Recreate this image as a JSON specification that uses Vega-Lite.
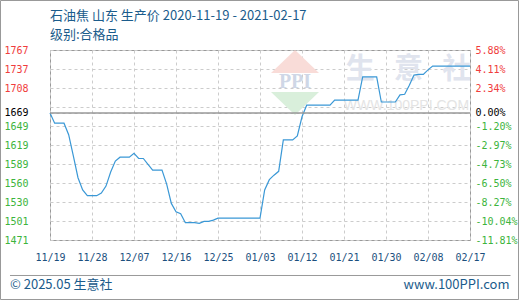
{
  "$schema": "https://vega.github.io/schema/vega-lite/v6.json",
  "width": 420,
  "height": 190,
  "autosize": {"type": "none"},
  "padding": {"left": 50, "top": 50, "right": 50, "bottom": 60},
  "background": "white",
  "title": {
    "text": "石油焦 山东 生产价 2020-11-19 - 2021-02-17",
    "subtitle": "级别:合格品",
    "anchor": "start",
    "frame": "group",
    "font": "Noto Sans CJK SC",
    "fontSize": 13,
    "fontWeight": "normal",
    "color": "#1b5c8c",
    "subtitleFont": "Noto Sans CJK SC",
    "subtitleFontSize": 13,
    "subtitleColor": "#1b5c8c",
    "subtitlePadding": 6,
    "offset": -42
  },
  "config": {
    "view": {"stroke": "#999999", "strokeWidth": 1},
    "axis": {
      "labelFont": "DejaVu Sans Mono",
      "labelFontSize": 10,
      "ticks": false,
      "tickSize": 0,
      "domain": false,
      "gridColor": "#cccccc",
      "gridDash": [3, 3],
      "title": null
    }
  },
  "resolve": {"scale": {"y": "independent"}},
  "layer": [
    {
      "data": {"values": [{}]},
      "mark": {"type": "point", "shape": "M-1,0.48L0,-0.48L1,0.48Z", "filled": true, "size": 2304, "color": "#f9dcd8", "opacity": 1},
      "encoding": {
        "x": {"datum": {"year": 2021, "month": 1, "date": 10, "hours": 12, "utc": true}, "type": "temporal", "scale": {"type": "utc", "domain": [1605744000000, 1613520000000], "nice": false}},
        "y": {"datum": 1749.1, "type": "quantitative", "scale": {"domain": [1471, 1767], "nice": false, "zero": false}, "axis": null}
      }
    },
    {
      "data": {"values": [{}]},
      "mark": {"type": "point", "shape": "M-1,-0.48L1,-0.48L0,0.48Z", "filled": true, "size": 2304, "color": "#d9efdb", "opacity": 1},
      "encoding": {
        "x": {"datum": {"year": 2021, "month": 1, "date": 10, "hours": 12, "utc": true}, "type": "temporal", "scale": {"type": "utc", "domain": [1605744000000, 1613520000000], "nice": false}},
        "y": {"datum": 1683.7, "type": "quantitative", "scale": {"domain": [1471, 1767], "nice": false, "zero": false}, "axis": null}
      }
    },
    {
      "data": {"values": [{}]},
      "mark": {"type": "text", "text": "PPI", "align": "center", "baseline": "middle", "font": "Liberation Serif", "fontWeight": "bold", "fontSize": 20, "color": "#cfd7e6"},
      "encoding": {
        "x": {"datum": {"year": 2021, "month": 1, "date": 10, "hours": 12, "utc": true}, "type": "temporal", "scale": {"type": "utc", "domain": [1605744000000, 1613520000000], "nice": false}},
        "y": {"datum": 1716.4, "type": "quantitative", "scale": {"domain": [1471, 1767], "nice": false, "zero": false}, "axis": null}
      }
    },
    {
      "data": {"values": [{}]},
      "mark": {"type": "text", "text": "生\u2002\u2006意\u2002\u2006社", "align": "center", "baseline": "middle", "font": "Noto Sans CJK SC", "fontWeight": "bold", "fontSize": 29, "color": "#e0e4ee"},
      "encoding": {
        "x": {"datum": {"year": 2021, "month": 2, "date": 3, "hours": 19, "minutes": 40, "utc": true}, "type": "temporal", "scale": {"type": "utc", "domain": [1605744000000, 1613520000000], "nice": false}},
        "y": {"datum": 1735.8, "type": "quantitative", "scale": {"domain": [1471, 1767], "nice": false, "zero": false}, "axis": null}
      }
    },
    {
      "data": {"values": [{}]},
      "mark": {"type": "text", "text": "WWW.100PPI.COM", "align": "center", "baseline": "middle", "font": "Liberation Sans", "fontSize": 14, "color": "#e4e4e4"},
      "encoding": {
        "x": {"datum": {"year": 2021, "month": 2, "date": 3, "hours": 9, "minutes": 20, "utc": true}, "type": "temporal", "scale": {"type": "utc", "domain": [1605744000000, 1613520000000], "nice": false}},
        "y": {"datum": 1679.8, "type": "quantitative", "scale": {"domain": [1471, 1767], "nice": false, "zero": false}, "axis": null}
      }
    },
    {
      "data": {
        "values": [
          {"date": "2020-11-19", "price": 1669},
          {"date": "2020-11-20", "price": 1653},
          {"date": "2020-11-21", "price": 1653},
          {"date": "2020-11-22", "price": 1653},
          {"date": "2020-11-23", "price": 1635},
          {"date": "2020-11-24", "price": 1602},
          {"date": "2020-11-25", "price": 1568},
          {"date": "2020-11-26", "price": 1549},
          {"date": "2020-11-27", "price": 1540},
          {"date": "2020-11-28", "price": 1540},
          {"date": "2020-11-29", "price": 1540},
          {"date": "2020-11-30", "price": 1544},
          {"date": "2020-12-01", "price": 1555},
          {"date": "2020-12-02", "price": 1577},
          {"date": "2020-12-03", "price": 1594},
          {"date": "2020-12-04", "price": 1600},
          {"date": "2020-12-05", "price": 1600},
          {"date": "2020-12-06", "price": 1600},
          {"date": "2020-12-07", "price": 1606},
          {"date": "2020-12-08", "price": 1598},
          {"date": "2020-12-09", "price": 1598},
          {"date": "2020-12-10", "price": 1589},
          {"date": "2020-12-11", "price": 1580},
          {"date": "2020-12-12", "price": 1580},
          {"date": "2020-12-13", "price": 1580},
          {"date": "2020-12-14", "price": 1558},
          {"date": "2020-12-15", "price": 1528},
          {"date": "2020-12-16", "price": 1515},
          {"date": "2020-12-17", "price": 1512},
          {"date": "2020-12-18", "price": 1498},
          {"date": "2020-12-19", "price": 1498},
          {"date": "2020-12-20", "price": 1498},
          {"date": "2020-12-21", "price": 1497},
          {"date": "2020-12-22", "price": 1500},
          {"date": "2020-12-23", "price": 1500},
          {"date": "2020-12-24", "price": 1502},
          {"date": "2020-12-25", "price": 1505},
          {"date": "2020-12-26", "price": 1505},
          {"date": "2020-12-27", "price": 1505},
          {"date": "2020-12-28", "price": 1505},
          {"date": "2020-12-29", "price": 1505},
          {"date": "2020-12-30", "price": 1505},
          {"date": "2020-12-31", "price": 1505},
          {"date": "2021-01-01", "price": 1505},
          {"date": "2021-01-02", "price": 1505},
          {"date": "2021-01-03", "price": 1505},
          {"date": "2021-01-04", "price": 1549},
          {"date": "2021-01-05", "price": 1565},
          {"date": "2021-01-06", "price": 1572},
          {"date": "2021-01-07", "price": 1578},
          {"date": "2021-01-08", "price": 1627},
          {"date": "2021-01-09", "price": 1627},
          {"date": "2021-01-10", "price": 1627},
          {"date": "2021-01-11", "price": 1633},
          {"date": "2021-01-12", "price": 1663},
          {"date": "2021-01-13", "price": 1681},
          {"date": "2021-01-14", "price": 1681},
          {"date": "2021-01-15", "price": 1681},
          {"date": "2021-01-16", "price": 1681},
          {"date": "2021-01-17", "price": 1681},
          {"date": "2021-01-18", "price": 1681},
          {"date": "2021-01-19", "price": 1689},
          {"date": "2021-01-20", "price": 1689},
          {"date": "2021-01-21", "price": 1689},
          {"date": "2021-01-22", "price": 1689},
          {"date": "2021-01-23", "price": 1689},
          {"date": "2021-01-24", "price": 1689},
          {"date": "2021-01-25", "price": 1725},
          {"date": "2021-01-26", "price": 1725},
          {"date": "2021-01-27", "price": 1725},
          {"date": "2021-01-28", "price": 1725},
          {"date": "2021-01-29", "price": 1686},
          {"date": "2021-01-30", "price": 1686},
          {"date": "2021-01-31", "price": 1686},
          {"date": "2021-02-01", "price": 1686},
          {"date": "2021-02-02", "price": 1697},
          {"date": "2021-02-03", "price": 1698},
          {"date": "2021-02-04", "price": 1712},
          {"date": "2021-02-05", "price": 1728},
          {"date": "2021-02-06", "price": 1729},
          {"date": "2021-02-07", "price": 1729},
          {"date": "2021-02-08", "price": 1736},
          {"date": "2021-02-09", "price": 1742},
          {"date": "2021-02-10", "price": 1742},
          {"date": "2021-02-11", "price": 1742},
          {"date": "2021-02-12", "price": 1742},
          {"date": "2021-02-13", "price": 1742},
          {"date": "2021-02-14", "price": 1742},
          {"date": "2021-02-15", "price": 1742},
          {"date": "2021-02-16", "price": 1742},
          {"date": "2021-02-17", "price": 1742}
        ]
      },
      "mark": {"type": "line", "color": "#3a98d6", "strokeWidth": 1.2},
      "encoding": {
        "x": {
          "field": "date",
          "type": "temporal",
          "scale": {"type": "utc", "domain": [1605744000000, 1613520000000], "nice": false},
          "axis": {
            "values": [1605744000000, 1606521600000, 1607299200000, 1608076800000, 1608854400000, 1609632000000, 1610409600000, 1611187200000, 1611964800000, 1612742400000, 1613520000000],
            "format": "%m/%d",
            "labelColor": "#1c4f7e",
            "labelPadding": 12,
            "labelOverlap": false,
            "labelFlush": false,
            "grid": true
          }
        },
        "y": {
          "field": "price",
          "type": "quantitative",
          "scale": {"domain": [1471, 1767], "nice": false, "zero": false},
          "axis": {
            "orient": "left",
            "values": [1471, 1500.6, 1530.2, 1559.8, 1589.4, 1619, 1648.6, 1669, 1678.2, 1707.8, 1737.4, 1767],
            "labelExpr": "datum.value == 1678.2 ? '' : format(datum.value, '.0f')",
            "labelAlign": "left",
            "labelPadding": 46,
            "labelOverlap": false,
            "labelFlush": false,
            "grid": true,
            "labelColor": {
              "condition": [
                {"test": "datum.value > 1670", "value": "#f03c3c"},
                {"test": "datum.value < 1668", "value": "#3cb43c"}
              ],
              "value": "#000000"
            }
          }
        }
      }
    },
    {
      "data": {"values": [{}]},
      "mark": {"type": "rule", "stroke": "#999999", "strokeWidth": 1.5},
      "encoding": {
        "y": {
          "datum": 1669,
          "type": "quantitative",
          "scale": {"domain": [1471, 1767], "nice": false, "zero": false},
          "axis": {
            "orient": "right",
            "values": [1471, 1500.6, 1530.2, 1559.8, 1589.4, 1619, 1648.6, 1669, 1707.8, 1737.4, 1767],
            "labelExpr": "datum.value == 1767 ? '5.88%' : datum.value == 1737.4 ? '4.11%' : datum.value == 1707.8 ? '2.34%' : datum.value == 1669 ? '0.00%' : datum.value == 1648.6 ? '-1.20%' : datum.value == 1619 ? '-2.97%' : datum.value == 1589.4 ? '-4.73%' : datum.value == 1559.8 ? '-6.50%' : datum.value == 1530.2 ? '-8.27%' : datum.value == 1500.6 ? '-10.04%' : '-11.81%'",
            "labelAlign": "left",
            "labelPadding": 5,
            "labelOverlap": false,
            "labelFlush": false,
            "grid": false,
            "labelColor": {
              "condition": [
                {"test": "datum.value > 1670", "value": "#f03c3c"},
                {"test": "datum.value < 1668", "value": "#3cb43c"}
              ],
              "value": "#000000"
            }
          }
        }
      }
    },
    {
      "data": {"values": [{}]},
      "mark": {"type": "rect", "fill": null, "stroke": "#999999", "strokeWidth": 1},
      "encoding": {
        "x": {"datum": {"year": 2020, "month": 11, "date": 8, "hours": 9, "minutes": 26, "utc": true}, "type": "temporal", "scale": {"type": "utc", "domain": [1605744000000, 1613520000000], "nice": false}},
        "x2": {"datum": {"year": 2021, "month": 2, "date": 27, "hours": 9, "minutes": 26, "utc": true}},
        "y": {"datum": 1844.1, "type": "quantitative", "scale": {"domain": [1471, 1767], "nice": false, "zero": false}, "axis": null},
        "y2": {"datum": 1378.3}
      }
    },
    {
      "data": {"values": [{}]},
      "mark": {"type": "rule", "stroke": "#999999", "strokeWidth": 1},
      "encoding": {
        "x": {"datum": {"year": 2020, "month": 11, "date": 10, "hours": 10, "minutes": 17, "utc": true}, "type": "temporal", "scale": {"type": "utc", "domain": [1605744000000, 1613520000000], "nice": false}},
        "x2": {"datum": {"year": 2021, "month": 2, "date": 25, "hours": 16, "minutes": 18, "utc": true}},
        "y": {"datum": 1415.7, "type": "quantitative", "scale": {"domain": [1471, 1767], "nice": false, "zero": false}, "axis": null}
      }
    },
    {
      "data": {"values": [{}]},
      "mark": {"type": "text", "text": "© 2025.05 生意社", "align": "left", "baseline": "middle", "font": "Noto Sans CJK SC", "fontSize": 13, "color": "#1b5c8c"},
      "encoding": {
        "x": {"datum": {"year": 2020, "month": 11, "date": 10, "hours": 10, "minutes": 17, "utc": true}, "type": "temporal", "scale": {"type": "utc", "domain": [1605744000000, 1613520000000], "nice": false}},
        "y": {"datum": 1400.9, "type": "quantitative", "scale": {"domain": [1471, 1767], "nice": false, "zero": false}, "axis": null}
      }
    },
    {
      "data": {"values": [{}]},
      "mark": {"type": "text", "text": "www.100PPI.com", "align": "right", "baseline": "middle", "font": "Noto Sans CJK SC", "fontSize": 13, "color": "#1b5c8c"},
      "encoding": {
        "x": {"datum": {"year": 2021, "month": 2, "date": 25, "hours": 11, "minutes": 8, "utc": true}, "type": "temporal", "scale": {"type": "utc", "domain": [1605744000000, 1613520000000], "nice": false}},
        "y": {"datum": 1400.9, "type": "quantitative", "scale": {"domain": [1471, 1767], "nice": false, "zero": false}, "axis": null}
      }
    }
  ]
}
